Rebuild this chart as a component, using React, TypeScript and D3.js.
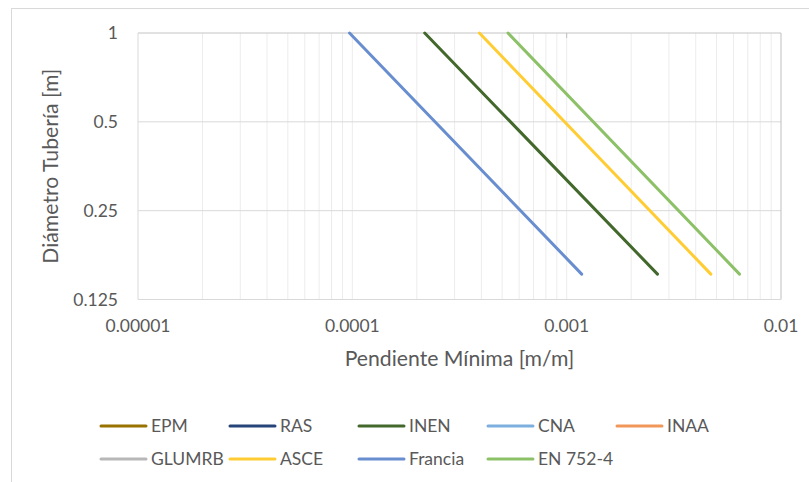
import React from "react";
import * as d3 from "d3";

// Pipe diameters [m] at which each standard's minimum slope is given
const diameters = [0.1524, 1.0];

// Minimum slope [m/m] per standard, one value per diameter
const seriesNames = ["EPM", "RAS", "INEN", "CNA", "INAA", "GLUMRB", "ASCE", "Francia", "EN 752-4"];
const epm: number[] = [];
const ras: number[] = [];
const inen = [0.002653, 0.0002176];
const cna: number[] = [];
const inaa: number[] = [];
const glumrb: number[] = [];
const asce = [0.004706, 0.0003915];
const francia = [0.001175, 0.000097];
const en7524 = [0.006404, 0.0005325];
const seriesValues = [epm, ras, inen, cna, inaa, glumrb, asce, francia, en7524];
const seriesColors = ["#997300", "#264478", "#43682B", "#7CAFDD", "#F1975A", "#B7B7B7", "#FFCD33", "#698ED0", "#8CC168"];

// Axis ticks
const xTicks = [0.00001, 0.0001, 0.001, 0.01];
const xTickLabels = ["0.00001", "0.0001", "0.001", "0.01"];
const yTicks = [0.125, 0.25, 0.5, 1];
const yTickLabels = ["0.125", "0.25", "0.5", "1"];

const W = 809;
const H = 482;
const plot = { left: 138, right: 781, top: 33, bottom: 299.5 };
const font = "Lato, 'Open Sans', sans-serif";
const textColor = "#595959";
const fs = 17.5;
const titleFs = 21.2;

export default function App() {
  const x = d3.scaleLog().domain([0.00001, 0.01]).range([plot.left, plot.right]);
  const y = d3.scaleLog().base(2).domain([0.125, 1]).range([plot.bottom, plot.top]);

  // minor vertical grid: 1..9 within each decade
  const minor: number[] = [];
  for (let e = -5; e < -2; e++) {
    for (let k = 1; k <= 9; k++) {
      const v = k * Math.pow(10, e);
      if (v > 0.0000100001) minor.push(v);
    }
  }

  const line = d3
    .line<[number, number]>()
    .x((d) => x(d[0]))
    .y((d) => y(d[1]));

  const legendCols = [101, 230, 359, 488, 617];
  const legendRows = [426, 459];

  return (
    <svg
      width={W}
      height={H}
      style={{ position: "absolute", left: 0, top: 0, background: "#fff" }}
      fontFamily={font}
    >
      <rect x={0} y={0} width={W} height={H} fill="#fff" />
      {/* chart frame */}
      <rect x={11.5} y={8.5} width={W + 20} height={H + 20} fill="none" stroke="#d9d9d9" strokeWidth={1} />

      {/* vertical gridlines */}
      {minor.map((v, i) => (
        <line key={"vg" + i} x1={x(v)} x2={x(v)} y1={plot.top} y2={plot.bottom} stroke="#ececec" strokeWidth={1} />
      ))}
      {/* horizontal gridlines */}
      {yTicks.slice(1, 3).map((v, i) => (
        <line key={"hg" + i} x1={plot.left} x2={plot.right} y1={y(v)} y2={y(v)} stroke="#d9d9d9" strokeWidth={1} />
      ))}

      {/* plot frame */}
      <line x1={plot.left} x2={plot.right} y1={plot.top} y2={plot.top} stroke="#c4c4c4" strokeWidth={1} />
      <line x1={plot.right} x2={plot.right} y1={plot.top} y2={plot.bottom} stroke="#bfbfbf" strokeWidth={1} />
      <line x1={plot.left} x2={plot.right} y1={plot.bottom} y2={plot.bottom} stroke="#d9d9d9" strokeWidth={1} />
      <line x1={plot.left} x2={plot.left} y1={plot.top} y2={plot.bottom} stroke="#d9d9d9" strokeWidth={1} />
      <line x1={x(0.001)} x2={x(0.001)} y1={plot.top} y2={plot.top + 5} stroke="#bfbfbf" strokeWidth={1} />

      {/* series */}
      {seriesValues.map((vals, i) =>
        vals.length ? (
          <path
            key={"s" + i}
            d={line(vals.map((s, j) => [s, diameters[j]] as [number, number])) || ""}
            fill="none"
            stroke={seriesColors[i]}
            strokeWidth={3}
            strokeLinecap="round"
          />
        ) : null
      )}

      {/* x tick labels */}
      {xTicks.map((v, i) => (
        <text key={"xt" + i} x={x(v)} y={331.5} textAnchor="middle" fontSize={fs} fill={textColor}>
          {xTickLabels[i]}
        </text>
      ))}
      {/* y tick labels */}
      {yTicks.map((v, i) => (
        <text key={"yt" + i} x={118} y={y(v) + 6.3} textAnchor="end" fontSize={fs} fill={textColor}>
          {yTickLabels[i]}
        </text>
      ))}

      {/* axis titles */}
      <text x={(plot.left + plot.right) / 2} y={366} textAnchor="middle" fontSize={titleFs} fill={textColor}>
        Pendiente Mínima [m/m]
      </text>
      <text
        transform={`translate(58, ${(plot.top + plot.bottom) / 2}) rotate(-90)`}
        textAnchor="middle"
        fontSize={titleFs}
        fill={textColor}
      >
        Diámetro Tubería [m]
      </text>

      {/* legend */}
      {seriesNames.map((name, i) => {
        const cx = legendCols[i % 5];
        const cy = legendRows[Math.floor(i / 5)];
        return (
          <g key={"lg" + i}>
            <line x1={cx} x2={cx + 45} y1={cy} y2={cy} stroke={seriesColors[i]} strokeWidth={3} strokeLinecap="round" />
            <text x={cx + 50} y={cy + 6.3} fontSize={fs} fill={textColor}>
              {name}
            </text>
          </g>
        );
      })}
    </svg>
  );
}
